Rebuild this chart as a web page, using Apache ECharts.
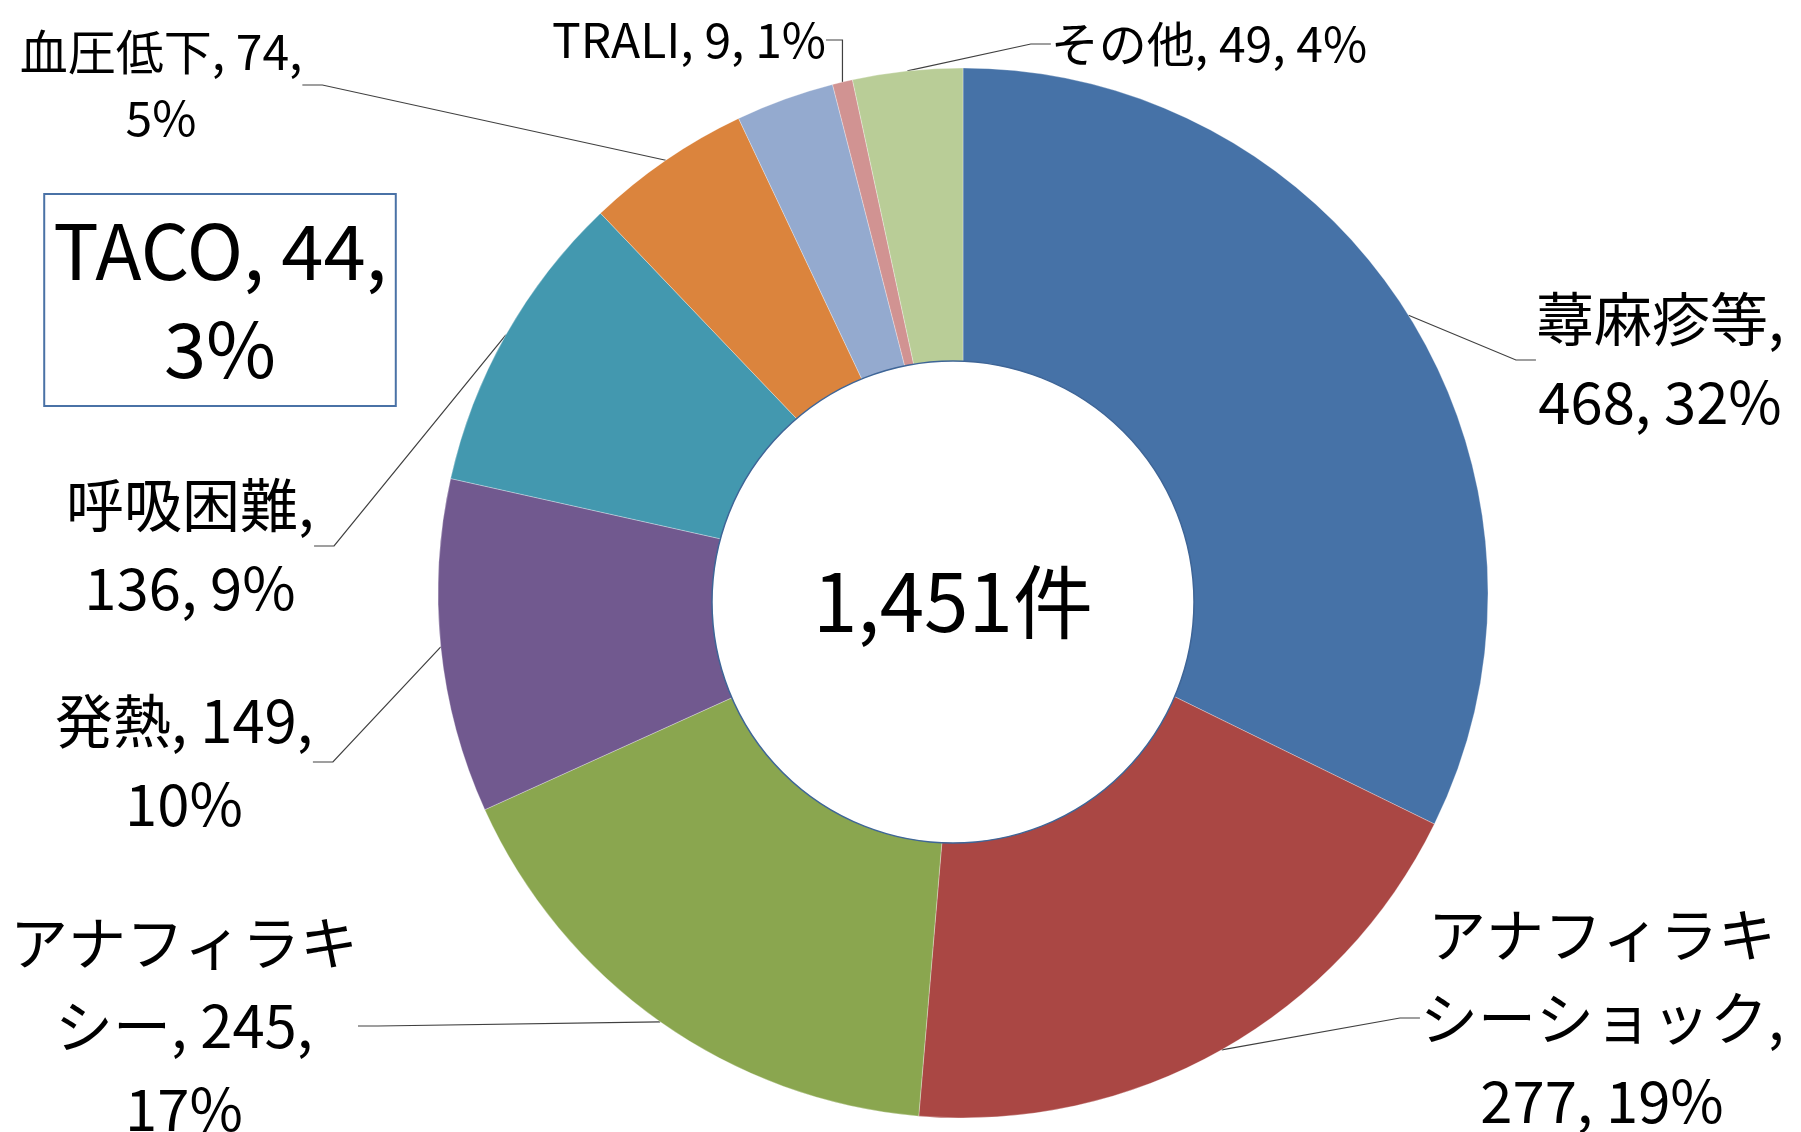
<!DOCTYPE html>
<html>
<head>
<meta charset="utf-8">
<script src="https://cdn.jsdelivr.net/npm/echarts@6/dist/echarts.min.js"></script>
<style>
  html, body { margin: 0; padding: 0; background: #fff; }
  #chart { width: 1801px; height: 1132px; }
</style>
</head>
<body>
<div id="chart"></div>
<script>
const categories = ['蕁麻疹等', 'アナフィラキシーショック', 'アナフィラキシー', '発熱', '呼吸困難', '血圧低下', 'TACO', 'TRALI', 'その他']
const counts = [468, 277, 245, 149, 136, 74, 44, 9, 49]
const colors = ['#4672A7', '#AA4744', '#8AA64F', '#71598F', '#4398AF', '#DB843D', '#94AACF', '#D19392', '#B9CD97']
const unitLabel = '件'

// label text: {n} name, {n0}/{n1} name split after 6 chars, {v} count, {p} percent
const labelTemplates = [
  '{n},\n{v}, {p}',
  '{n0}\n{n1},\n{v}, {p}',
  '{n0}\n{n1}, {v},\n{p}',
  '{n}, {v},\n{p}',
  '{n},\n{v}, {p}',
  '{n}, {v},\n{p}',
  '{n}, {v},\n{p}',
  '{n}, {v}, {p}',
  '{n}, {v}, {p}'
]
// centre of each label block
const labelPos = [[1660, 360], [1602, 1018], [184, 1026], [184, 762], [190, 546], [161, 85], [220, 300], [689, 40], [1209, 44]]

const FONT = '"Noto Sans CJK JP", "Noto Sans", sans-serif'
const total = counts.reduce((a, b) => a + b, 0)
const ringCenter = [963, 593]
// the hole sits a little off-centre in the original
const holeCenter = [953, 602]

const smallLabel = { fontSize: 48, lineHeight: 66 }
const tacoLabel = {
  fontSize: 76, lineHeight: 98,
  borderColor: '#4A72A6', borderWidth: 2, padding: [8, 9, 8, 9]
}

function labelText(i, percent) {
  const n = categories[i]
  return labelTemplates[i]
    .replace('{n0}', n.slice(0, 6))
    .replace('{n1}', n.slice(6))
    .replace('{n}', n)
    .replace('{v}', counts[i])
    .replace('{p}', percent + '%')
}

const chart = echarts.init(document.getElementById('chart'))

const option = {
  backgroundColor: '#fff',
  animation: false,
  series: [
    {
      type: 'pie',
      center: ringCenter,
      radius: [220, 525],
      startAngle: 90,
      clockwise: true,
      percentPrecision: 0,
      avoidLabelOverlap: false,
      emphasis: { disabled: true },
      itemStyle: { borderColor: 'rgba(255,255,255,0.6)', borderWidth: 0.5 },
      label: {
        show: true,
        formatter: (p) => labelText(p.dataIndex, p.percent),
        color: '#000',
        fontFamily: FONT,
        fontSize: 58,
        lineHeight: 83
      },
      labelLine: {
        show: true,
        length: 20,
        length2: 20,
        lineStyle: { color: '#404040', width: 1.2 }
      },
      labelLayout: (p) => ({
        x: labelPos[p.dataIndex][0],
        y: labelPos[p.dataIndex][1],
        align: 'center',
        verticalAlign: 'middle'
      }),
      data: categories.map((name, i) => {
        const item = { name, value: counts[i], itemStyle: { color: colors[i] } }
        if (name === '血圧低下' || name === 'TRALI' || name === 'その他') item.label = smallLabel
        if (name === 'TACO') {
          item.label = tacoLabel
          item.labelLine = { show: false }
        }
        return item
      })
    },
    {
      type: 'pie',
      center: holeCenter,
      radius: [0, 241],
      silent: true,
      emphasis: { disabled: true },
      itemStyle: { color: '#fff', borderColor: '#3E6597', borderWidth: 1.5 },
      label: {
        show: true,
        position: 'center',
        formatter: total.toLocaleString('en-US') + unitLabel,
        color: '#000',
        fontFamily: FONT,
        fontSize: 80
      },
      labelLine: { show: false },
      data: [{ name: '合計', value: total }]
    }
  ]
}

chart.setOption(option)
window.addEventListener('resize', () => chart.resize())
</script>
</body>
</html>
